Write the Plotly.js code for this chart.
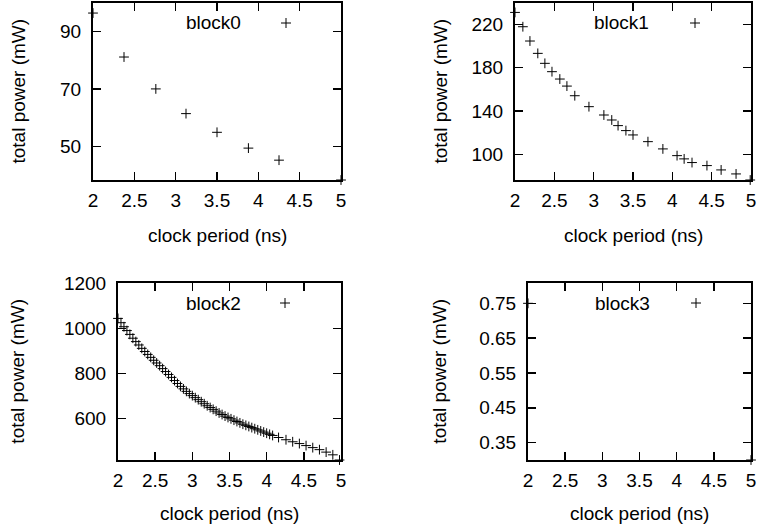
<!DOCTYPE html>
<html>
<head>
<meta charset="utf-8">
<script src="https://cdn.plot.ly/plotly-3.0.1.min.js"></script>
<style>html,body{margin:0;padding:0;background:#fff;}#chart{width:758px;height:529px;}</style>
</head>
<body>
<div id="chart"></div>
<script>
// ---- data ----
const block0X = [2.0, 2.375, 2.76, 3.125, 3.50, 3.88, 4.25, 5.0];
const block0Y = [96.5, 81.2, 70.1, 61.5, 55.0, 49.5, 45.3, 38.4];

const block1X = [2.0, 2.10, 2.19, 2.29, 2.38, 2.47, 2.57, 2.66, 2.76, 2.94, 3.13, 3.23, 3.31, 3.41, 3.50, 3.69, 3.88, 4.06, 4.15, 4.25, 4.44, 4.62, 4.81, 4.99];
const block1Y = [231, 217.8, 204.6, 193.2, 184, 176.3, 169.5, 163, 154.1, 144, 136.3, 131.7, 126.5, 121.9, 117.9, 111.7, 105, 98.8, 95.8, 92.4, 89.6, 85.6, 81.9, 76.3];

const block2X = [2.00, 2.04, 2.08, 2.12, 2.16, 2.20, 2.24, 2.28, 2.32, 2.36, 2.40, 2.44, 2.48, 2.52, 2.56, 2.60,
                 2.64, 2.68, 2.72, 2.76, 2.80, 2.84, 2.88, 2.92, 2.96, 3.00, 3.04, 3.08, 3.12, 3.16, 3.20, 3.24,
                 3.28, 3.32, 3.36, 3.40, 3.44, 3.48, 3.52, 3.56, 3.60, 3.64, 3.68, 3.72, 3.76, 3.80, 3.84, 3.88,
                 3.92, 3.96, 4.00, 4.04, 4.08, 4.16, 4.26, 4.35, 4.44, 4.53, 4.62, 4.71, 4.80, 4.89, 4.98];
const block2Y = [1044, 1025, 1007, 990, 973, 956, 941, 926, 911, 897, 884, 871, 858, 846, 834, 821,
                 808, 795, 782, 768, 755, 742, 731, 720, 710, 701, 692, 683, 674, 665, 656, 648,
                 640, 632, 624, 617, 610, 604, 598, 592, 586, 580, 574, 569, 564, 559, 554, 549,
                 544, 539, 534, 529, 524, 515, 505, 496, 488, 479, 470, 461, 450, 438, 415];

const block3X = [2.0, 5.0];
const block3Y = [0.75, 0.3];

const xTicks = [2, 2.5, 3, 3.5, 4, 4.5, 5];
const names = ['block0', 'block1', 'block2', 'block3'];
const xTitle = 'clock period (ns)';
const yTitle = 'total power (mW)';

// ---- layout geometry (pixels) ----
const W = 758, H = 529;
const px = v => v / W;
const py = v => 1 - v / H;
const frames = [
  {l: 93,  r: 341, t: 3,     b: 180, yr: [38.4, 100],   dt: 20,  t0: 50},
  {l: 515, r: 751, t: 3,     b: 180, yr: [76.3, 239.7], dt: 40,  t0: 100},
  {l: 118, r: 341, t: 283.3, b: 460, yr: [415, 1200],   dt: 200, t0: 600},
  {l: 528, r: 751, t: 283.3, b: 460, yr: [0.3, 0.8075], dt: 0.1, t0: 0.35}
];
const legendPos = [
  {tx: 213, mx: 286, y: 23},
  {tx: 621, mx: 695, y: 23},
  {tx: 213, mx: 285, y: 303},
  {tx: 622, mx: 696, y: 303}
];
const xTitlePos = [{x: 217, y: 235}, {x: 633, y: 235}, {x: 229, y: 513}, {x: 639, y: 513}];
const yTitleX = [18, 440, 18, 440];

const FONT = 'Liberation Sans, Arial, sans-serif';
const FS = 19;

const dataX = [block0X, block1X, block2X, block3X];
const dataY = [block0Y, block1Y, block2Y, block3Y];

const traces = dataX.map((xs, i) => ({
  type: 'scatter', mode: 'markers',
  x: xs, y: dataY[i],
  xaxis: i === 0 ? 'x' : 'x' + (i + 1),
  yaxis: i === 0 ? 'y' : 'y' + (i + 1),
  cliponaxis: false,
  marker: {symbol: 'cross-thin', size: 7, color: '#000', line: {color: '#000', width: 1}},
  showlegend: false, hoverinfo: 'skip'
}));

const layout = {
  width: W, height: H,
  margin: {l: 0, r: 0, t: 0, b: 0},
  paper_bgcolor: '#fff', plot_bgcolor: '#fff',
  showlegend: false,
  font: {family: FONT, size: FS, color: '#000'},
  annotations: [], shapes: []
};

frames.forEach((f, i) => {
  const s = i === 0 ? '' : String(i + 1);
  layout['xaxis' + s] = {
    domain: [px(f.l), px(f.r)], range: [2, 5],
    anchor: 'y' + s,
    tickmode: 'array', tickvals: xTicks, ticktext: xTicks.map(String),
    ticks: 'inside', ticklen: 8, tickwidth: 1.5, tickcolor: '#000',
    showline: true, linewidth: 2, linecolor: '#000', mirror: 'ticks',
    showgrid: false, zeroline: false,
    ticklabelstandoff: 2,
    tickfont: {family: FONT, size: FS, color: '#000'}
  };
  layout['yaxis' + s] = {
    domain: [py(f.b), py(f.t)], range: f.yr,
    anchor: 'x' + s,
    tick0: f.t0, dtick: f.dt,
    ticks: 'inside', ticklen: 8, tickwidth: 1.5, tickcolor: '#000',
    showline: true, linewidth: 2, linecolor: '#000', mirror: 'ticks',
    showgrid: false, zeroline: false,
    ticklabelstandoff: 6,
    tickfont: {family: FONT, size: FS, color: '#000'}
  };
  layout.annotations.push({
    xref: 'paper', yref: 'paper', x: px(xTitlePos[i].x), y: py(xTitlePos[i].y),
    xanchor: 'center', yanchor: 'middle', showarrow: false, text: xTitle,
    font: {family: FONT, size: FS, color: '#000'}
  });
  layout.annotations.push({
    xref: 'paper', yref: 'paper', x: px(yTitleX[i]), y: py((f.t + f.b) / 2),
    xanchor: 'center', yanchor: 'middle', showarrow: false, text: yTitle, textangle: -90,
    font: {family: FONT, size: FS, color: '#000'}
  });
  const L = legendPos[i];
  layout.annotations.push({
    xref: 'paper', yref: 'paper', x: px(L.tx), y: py(L.y),
    xanchor: 'center', yanchor: 'middle', showarrow: false, text: names[i],
    font: {family: FONT, size: FS, color: '#000'}
  });
  layout.shapes.push({type: 'line', xref: 'paper', yref: 'paper', x0: px(L.mx - 5), x1: px(L.mx + 5), y0: py(L.y), y1: py(L.y), line: {color: '#000', width: 1}});
  layout.shapes.push({type: 'line', xref: 'paper', yref: 'paper', x0: px(L.mx), x1: px(L.mx), y0: py(L.y - 5), y1: py(L.y + 5), line: {color: '#000', width: 1}});
});

Plotly.newPlot('chart', traces, layout, {staticPlot: true});
</script>
</body>
</html>
